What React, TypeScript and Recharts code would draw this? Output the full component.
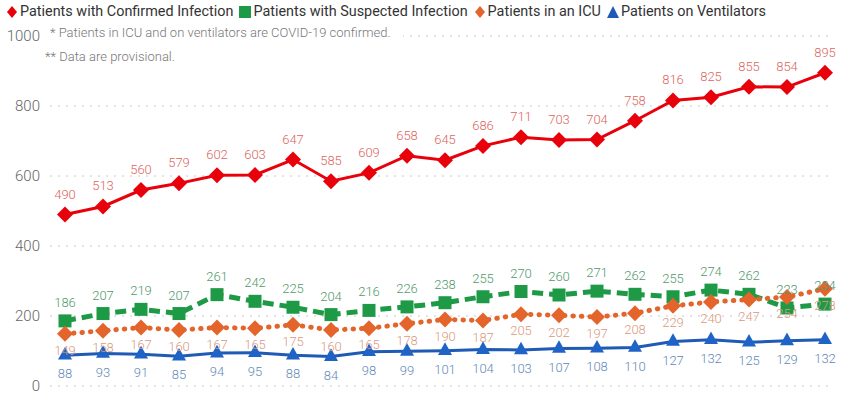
import React from 'react';
import {
  CartesianGrid,
  LabelList,
  Line,
  LineChart,
  XAxis,
  YAxis,
} from 'recharts';

const days = [
  'D1', 'D2', 'D3', 'D4', 'D5', 'D6', 'D7', 'D8', 'D9', 'D10', 'D11',
  'D12', 'D13', 'D14', 'D15', 'D16', 'D17', 'D18', 'D19', 'D20', 'D21',
];
const confirmed = [
  490, 513, 560, 579, 602, 603, 647, 585, 609, 658, 645, 686, 711, 703, 704,
  758, 816, 825, 855, 854, 895,
];
const suspected = [
  186, 207, 219, 207, 261, 242, 225, 204, 216, 226, 238, 255, 270, 260, 271,
  262, 255, 274, 262, 223, 234,
];
const icu = [
  149, 158, 167, 160, 167, 165, 175, 160, 165, 178, 190, 187, 205, 202, 197,
  208, 229, 240, 247, 254, 278,
];
const ventilators = [
  88, 93, 91, 85, 94, 95, 88, 84, 98, 99, 101, 104, 103, 107, 108, 110, 127,
  132, 125, 129, 132,
];
const yTicks = [0, 200, 400, 600, 800, 1000];

const RED = '#E8000B';
const GREEN = '#1E9A47';
const ORANGE = '#E4652C';
const BLUE = '#1F5BB5';

const font = 'Roboto, "Open Sans", sans-serif';

const chartData = days.map((day, i) => ({
  day,
  confirmed: confirmed[i],
  suspected: suspected[i],
  icu: icu[i],
  ventilators: ventilators[i],
}));

const diamond = (color: string, r: number) => (props: any) => {
  const { cx, cy, index } = props;
  return (
    <path
      key={`d-${color}-${index}`}
      d={`M${cx},${cy - r} L${cx + r},${cy} L${cx},${cy + r} L${cx - r},${cy} Z`}
      fill={color}
    />
  );
};

const square = (color: string, s: number) => (props: any) => {
  const { cx, cy, index } = props;
  return (
    <rect
      key={`s-${index}`}
      x={cx - s / 2}
      y={cy - s / 2}
      width={s}
      height={s}
      fill={color}
    />
  );
};

const triangle = (color: string, w: number) => (props: any) => {
  const { cx, cy, index } = props;
  const h = w * 0.9;
  return (
    <path
      key={`t-${index}`}
      d={`M${cx},${cy - h / 2 - 2} L${cx + w / 2},${cy + h / 2 - 2} L${cx - w / 2},${cy + h / 2 - 2} Z`}
      fill={color}
    />
  );
};

const legendItems = [
  { name: 'Patients with Confirmed Infection', color: RED, shape: 'diamond' },
  { name: 'Patients with Suspected Infection', color: GREEN, shape: 'square' },
  { name: 'Patients in an ICU', color: ORANGE, shape: 'diamond' },
  { name: 'Patients on Ventilators', color: BLUE, shape: 'triangle' },
];

const LegendIcon = ({ shape, color }: { shape: string; color: string }) => (
  <svg width={12} height={14} style={{ marginRight: 2 }}>
    {shape === 'diamond' && <path d="M6,1 L11,7 L6,13 L1,7 Z" fill={color} />}
    {shape === 'square' && <rect x={0} y={1} width={12} height={12} fill={color} />}
    {shape === 'triangle' && <path d="M6,1 L12,13 L0,13 Z" fill={color} />}
  </svg>
);

const labelStyle = { fontSize: 13, fontFamily: font, fontWeight: 300 };

export default function App() {
  return (
    <div
      style={{
        position: 'absolute',
        left: 0,
        top: 0,
        width: 846,
        height: 400,
        background: '#fff',
        fontFamily: font,
      }}
    >
      <LineChart
        width={846}
        height={400}
        data={chartData}
        margin={{ top: 36, right: 16, bottom: 14, left: 0 }}
      >
        <CartesianGrid
          vertical={false}
          stroke="#c8c8c8"
          strokeDasharray="2 6"
        />
        <XAxis dataKey="day" hide padding={{ left: 15, right: 5 }} />
        <YAxis
          width={50}
          domain={[0, 1000]}
          ticks={yTicks}
          axisLine={false}
          tickLine={false}
          tickMargin={4}
          tick={{ fill: '#666', fontSize: 15, fontFamily: font, fontWeight: 300 }}
        />
        <Line
          dataKey="suspected"
          stroke={GREEN}
          strokeWidth={5}
          strokeDasharray="11 6"
          dot={square(GREEN, 13)}
          isAnimationActive={false}
        >
          <LabelList
            dataKey="suspected"
            position="top"
            offset={14}
            fill="#4F9A6C"
            {...labelStyle}
          />
        </Line>
        <Line
          dataKey="icu"
          stroke={ORANGE}
          strokeWidth={5}
          strokeDasharray="0.5 8"
          strokeLinecap="round"
          dot={diamond(ORANGE, 8)}
          isAnimationActive={false}
        >
          <LabelList
            dataKey="icu"
            position="bottom"
            offset={12}
            fill="#D99A80"
            {...labelStyle}
          />
        </Line>
        <Line
          dataKey="ventilators"
          stroke={BLUE}
          strokeWidth={3}
          dot={triangle('#1F63C6', 14)}
          isAnimationActive={false}
        >
          <LabelList
            dataKey="ventilators"
            position="bottom"
            offset={14}
            fill="#6389B8"
            {...labelStyle}
          />
        </Line>
        <Line
          dataKey="confirmed"
          stroke={RED}
          strokeWidth={3}
          dot={diamond(RED, 8)}
          isAnimationActive={false}
        >
          <LabelList
            dataKey="confirmed"
            position="top"
            offset={16}
            fill="#DC6660"
            {...labelStyle}
          />
        </Line>
      </LineChart>

      <div
        style={{
          position: 'absolute',
          left: 6,
          top: 3,
          display: 'flex',
          alignItems: 'center',
          fontSize: 14.4,
          color: '#333',
          whiteSpace: 'nowrap',
        }}
      >
        {legendItems.map((item) => (
          <span
            key={item.name}
            style={{ display: 'flex', alignItems: 'center', marginRight: 6 }}
          >
            <LegendIcon shape={item.shape} color={item.color} />
            {item.name}
          </span>
        ))}
      </div>
      <div
        style={{
          position: 'absolute',
          left: 50,
          top: 25,
          fontSize: 13,
          fontWeight: 300,
          color: '#777',
          background: '#fff',
          paddingRight: 12,
        }}
      >
        * Patients in ICU and on ventilators are COVID-19 confirmed.
      </div>
      <div
        style={{
          position: 'absolute',
          left: 45,
          top: 49,
          fontSize: 13,
          fontWeight: 300,
          color: '#777',
        }}
      >
        ** Data are provisional.
      </div>
    </div>
  );
}
